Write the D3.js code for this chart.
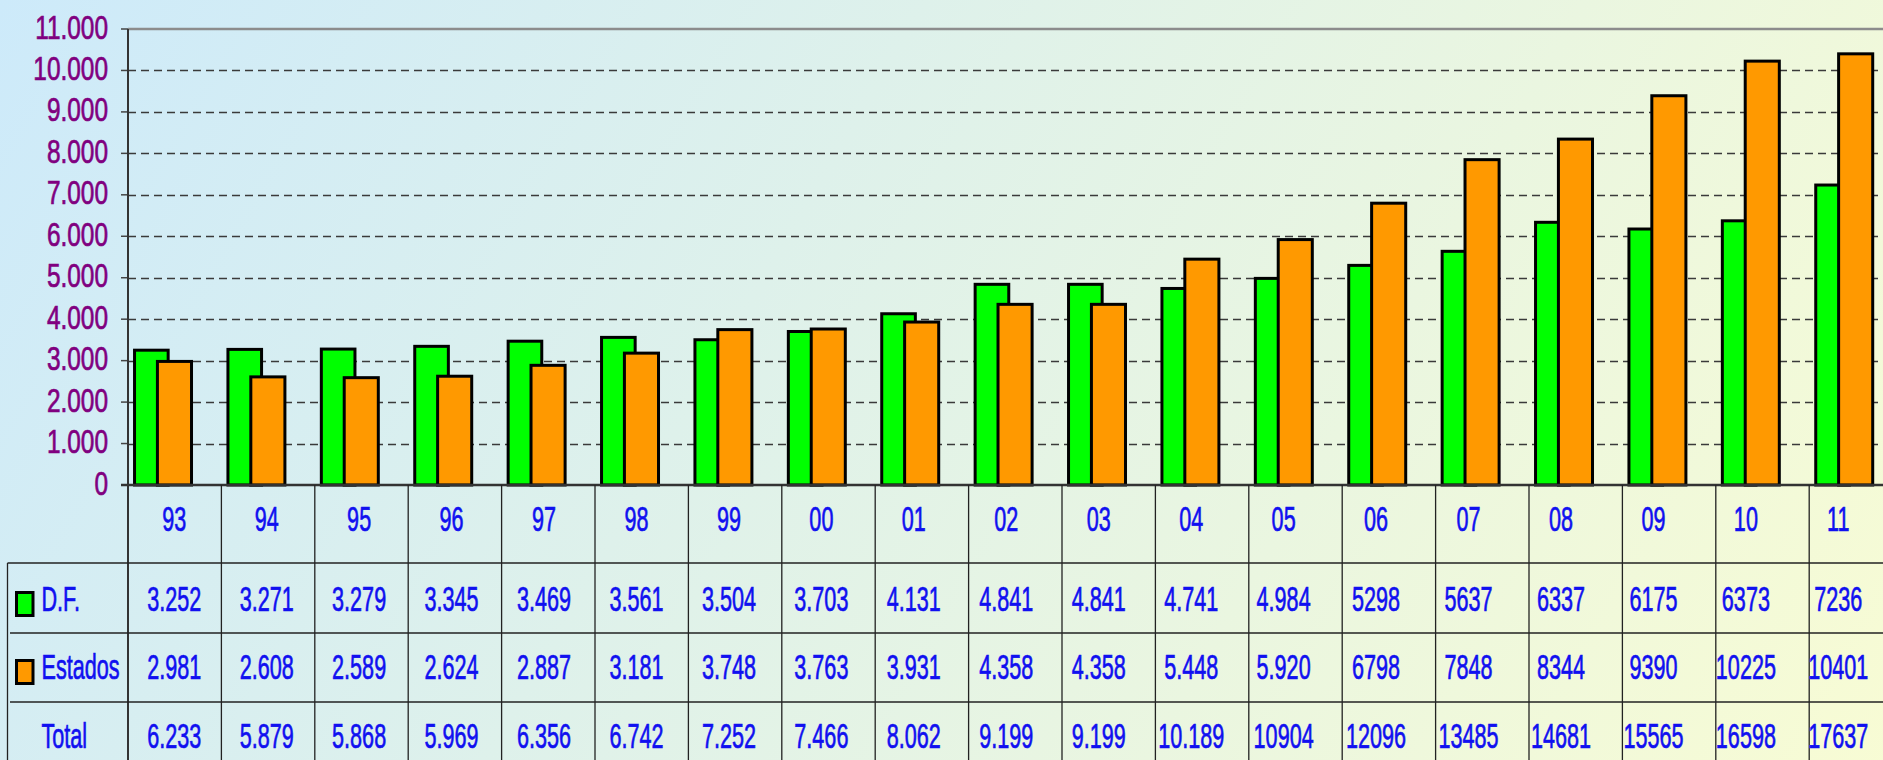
<!DOCTYPE html>
<html>
<head>
<meta charset="utf-8">
<script src="https://d3js.org/d3.v7.min.js"></script>
<style>
  html, body { margin: 0; padding: 0; overflow: hidden; }
  svg { display: block; font-family: "Liberation Sans", Arial, sans-serif; }
</style>
</head>
<body>
<div id="chart"></div>
<script>
// categorias (años)
var years = ["93","94","95","96","97","98","99","00","01","02","03","04","05","06","07","08","09","10","11"];
// series
var dfValues = [3252,3271,3279,3345,3469,3561,3504,3703,4131,4841,4841,4741,4984,5298,5637,6337,6175,6373,7236];
var estadosValues = [2981,2608,2589,2624,2887,3181,3748,3763,3931,4358,4358,5448,5920,6798,7848,8344,9390,10225,10401];
// textos de la tabla de datos, tal como aparecen
var dfLabels = ["3.252","3.271","3.279","3.345","3.469","3.561","3.504","3.703","4.131","4.841","4.841","4.741","4.984","5298","5637","6337","6175","6373","7236"];
var estadosLabels = ["2.981","2.608","2.589","2.624","2.887","3.181","3.748","3.763","3.931","4.358","4.358","5.448","5.920","6798","7848","8344","9390","10225","10401"];
var totalLabels = ["6.233","5.879","5.868","5.969","6.356","6.742","7.252","7.466","8.062","9.199","9.199","10.189","10904","12096","13485","14681","15565","16598","17637"];
// eje y
var yTicks = [0,1000,2000,3000,4000,5000,6000,7000,8000,9000,10000,11000];
var yTickLabels = ["0","1.000","2.000","3.000","4.000","5.000","6.000","7.000","8.000","9.000","10.000","11.000"];

var W = 1883, H = 760;
var plotLeft = 128, plotTop = 29, axisY = 485;
var colW = 93.4;

var svg = d3.select("#chart").append("svg")
  .attr("width", W).attr("height", H);

// fondo degradado
var defs = svg.append("defs");
var grad = defs.append("linearGradient")
  .attr("id", "bg").attr("gradientUnits", "userSpaceOnUse")
  .attr("x1", 0).attr("y1", 0).attr("x2", W).attr("y2", 1090);
grad.append("stop").attr("offset", "0%").attr("stop-color", "#cdeafa");
grad.append("stop").attr("offset", "100%").attr("stop-color", "#fbfdd1");
svg.append("rect").attr("width", W).attr("height", H).attr("fill", "url(#bg)");

// escalas
var x = d3.scaleBand().domain(years).range([plotLeft, plotLeft + years.length * colW]).padding(0);
var xText = d3.scaleBand().domain(years).range([plotLeft, plotLeft + years.length * 92.45]).padding(0);
var y = d3.scaleLinear().domain([0, 11000]).range([axisY, plotTop]);
var bw = x.bandwidth();

// texto comprimido (fuente estrecha)
function narrowText(g, tx, ty, str, size, sx, anchor, color) {
  g.append("g").attr("transform", "translate(" + tx + "," + ty + ")")
    .append("text")
    .attr("transform", "scale(" + sx + ",1)")
    .attr("text-anchor", anchor)
    .attr("font-size", size)
    .attr("fill", color)
    .attr("stroke", color)
    .attr("stroke-width", 0.7)
    .text(str);
}

// lineas de division
svg.append("g").selectAll("line")
  .data(yTicks.filter(function(d){ return d > 0 && d < 11000; }))
  .enter().append("line")
  .attr("x1", plotLeft).attr("x2", W)
  .attr("y1", function(d){ return Math.round(y(d)) + 0.5; })
  .attr("y2", function(d){ return Math.round(y(d)) + 0.5; })
  .attr("stroke", "#3a3a3a").attr("stroke-width", 1.4)
  .attr("stroke-dasharray", "8,5");

// borde superior
svg.append("line").attr("x1", plotLeft).attr("x2", W)
  .attr("y1", y(11000)).attr("y2", y(11000))
  .attr("stroke", "#8c8c8c").attr("stroke-width", 2.5);

// marcas y etiquetas eje y
var yAxis = svg.append("g");
yAxis.selectAll("line").data(yTicks).enter().append("line")
  .attr("x1", plotLeft - 7).attr("x2", plotLeft)
  .attr("y1", function(d){ return y(d); }).attr("y2", function(d){ return y(d); })
  .attr("stroke", "#444").attr("stroke-width", 1.5);
yTicks.forEach(function(d, i) {
  narrowText(yAxis, 108, y(d) + 9.5, yTickLabels[i], 33, 0.74, "end", "#800080");
});

// barras
var bars = svg.append("g");
bars.selectAll("rect.df").data(dfValues).enter().append("rect")
  .attr("class", "df")
  .attr("x", function(d, i){ return x(years[i]) + bw * 0.07; })
  .attr("y", function(d){ return y(d); })
  .attr("width", bw * 0.36)
  .attr("height", function(d){ return axisY - y(d); })
  .attr("fill", "#00ff00").attr("stroke", "#000").attr("stroke-width", 3);
bars.selectAll("rect.est").data(estadosValues).enter().append("rect")
  .attr("class", "est")
  .attr("x", function(d, i){ return x(years[i]) + bw * 0.315; })
  .attr("y", function(d){ return y(d); })
  .attr("width", bw * 0.365)
  .attr("height", function(d){ return axisY - y(d); })
  .attr("fill", "#ff9900").attr("stroke", "#000").attr("stroke-width", 3);

// eje izquierdo y eje x
svg.append("line").attr("x1", plotLeft).attr("x2", plotLeft)
  .attr("y1", plotTop).attr("y2", H)
  .attr("stroke", "#333").attr("stroke-width", 2);
svg.append("line").attr("x1", plotLeft - 7).attr("x2", W)
  .attr("y1", axisY).attr("y2", axisY)
  .attr("stroke", "#333").attr("stroke-width", 2.5);

// tabla de datos
var rowTop = [563, 633, 702];
var table = svg.append("g");
table.selectAll("line.v").data(years).enter().append("line")
  .attr("x1", function(d){ return x(d) + bw; }).attr("x2", function(d){ return x(d) + bw; })
  .attr("y1", axisY).attr("y2", H)
  .attr("stroke", "#222").attr("stroke-width", 1.3);
table.append("line").attr("x1", 7.5).attr("x2", W)
  .attr("y1", rowTop[0]).attr("y2", rowTop[0])
  .attr("stroke", "#222").attr("stroke-width", 1.3);
table.append("line").attr("x1", 7.5).attr("x2", 7.5)
  .attr("y1", rowTop[0]).attr("y2", H)
  .attr("stroke", "#222").attr("stroke-width", 1.3);
[rowTop[1], rowTop[2]].forEach(function(ry) {
  table.append("line").attr("x1", 10).attr("x2", W)
    .attr("y1", ry).attr("y2", ry)
    .attr("stroke", "#222").attr("stroke-width", 1.3);
});

var blue = "#1010f0";
var fs = 36, sx = 0.6;
years.forEach(function(d, i) {
  var cx = xText(d) + xText.bandwidth() / 2;
  narrowText(table, cx, 531, d, fs, sx, "middle", blue);
  narrowText(table, cx, 611, dfLabels[i], fs, sx, "middle", blue);
  narrowText(table, cx, 679, estadosLabels[i], fs, sx, "middle", blue);
  narrowText(table, cx, 748, totalLabels[i], fs, sx, "middle", blue);
});

// leyenda en la tabla
table.append("rect").attr("x", 16.5).attr("y", 592.5).attr("width", 16.5).attr("height", 23)
  .attr("fill", "#00ff00").attr("stroke", "#000").attr("stroke-width", 3);
table.append("rect").attr("x", 16.5).attr("y", 660.5).attr("width", 16.5).attr("height", 23)
  .attr("fill", "#ff9900").attr("stroke", "#000").attr("stroke-width", 3);
narrowText(table, 41.5, 611, "D.F.", fs, sx, "start", blue);
narrowText(table, 41.5, 679, "Estados", fs, sx, "start", blue);
narrowText(table, 41.5, 748, "Total", fs, sx, "start", blue);
</script>
</body>
</html>
